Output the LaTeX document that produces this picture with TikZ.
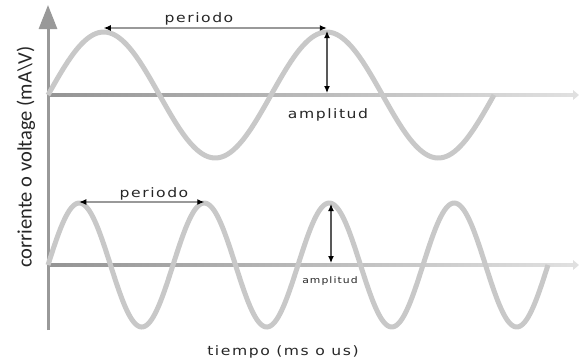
\documentclass[tikz,border=0pt]{standalone}
\usepackage{fontspec}
\usepackage{graphicx}
\setmainfont{DejaVu Sans}
\newfontfamily\labfont[LetterSpace=10]{DejaVu Sans}
\newfontfamily\ylabfont{Carlito}
\usetikzlibrary{arrows.meta}
\definecolor{wavegray}{HTML}{C8C8C8}
\definecolor{axisgray}{HTML}{999999}
\definecolor{txtgray}{HTML}{262626}
\newcommand{\widetxt}[1]{\scalebox{1.2}[1]{#1}}
\begin{document}
\begin{tikzpicture}[x=1pt,y=-1pt,
  yaxisline/.style={draw=axisgray, line width=3pt, -{Triangle[width=18pt,length=24pt]}},
  wave/.style={draw=wavegray, line width=5pt},
  dimline/.style={draw=black!40, line width=1.2pt, {Latex[length=7pt,width=6pt,black]}-{Latex[length=7pt,width=6pt,black]}},
  ampline/.style={draw=black!65, line width=1.2pt, {Latex[length=7pt,width=6pt,black]}-{Latex[length=7pt,width=6pt,black]}},
  lab/.style={font=\labfont\fontsize{13}{15}\selectfont, text=txtgray, anchor=base, inner sep=0pt},
  smalllab/.style={font=\labfont\fontsize{9}{11}\selectfont, text=txtgray, anchor=base, inner sep=0pt},
]
\useasboundingbox (0,0) rectangle (579,360);
% coordinates
\coordinate (ybot) at (48,330);
\coordinate (ytop) at (48,5);
\coordinate (t1) at (103.75,28);
\coordinate (t2) at (326.75,28);
\coordinate (ta1) at (327,31);
\coordinate (ta2) at (327,93);
\coordinate (b1) at (79.25,202);
\coordinate (b2) at (204.25,202);
\coordinate (ba1) at (331,204);
\coordinate (ba2) at (331,263);
% horizontal axes
\shade[left color=black!42, right color=black!12] (48,93.5) rectangle (573,96.5);
\fill[black!12] (573,90) -- (579,95) -- (573,100) -- cycle;
\shade[left color=black!42, right color=black!12] (48,263.5) rectangle (573,266.5);
\fill[black!12] (573,260) -- (579,265) -- (573,270) -- cycle;
% vertical axis
\draw[yaxisline] (ybot) -- (ytop);
% waves
\draw[wave] plot[domain=0:446, samples=160, smooth] ({48+\x},{95-63*sin(1.61435*\x)});
\draw[wave] plot[domain=0:500, samples=300, smooth] ({48+\x},{265-62*sin(2.88*\x)});
% dimension arrows
\draw[dimline] (t1) -- (t2);
\draw[ampline] (ta1) -- (ta2);
\draw[dimline] (b1) -- (b2);
\draw[ampline] (ba1) -- (ba2);
% labels
\node[lab] (lp1) at (199,22) {\widetxt{periodo}};
\node[lab] (la1) at (328,118) {\widetxt{amplitud}};
\node[lab] (lp2) at (154,197) {\widetxt{periodo}};
\node[smalllab] (la2) at (330,283) {\widetxt{amplitud}};
\node[lab] (lx) at (283,355) {\widetxt{tiempo (ms o us)}};
\node[font=\ylabfont\fontsize{20.5}{22}\selectfont, text=black!85, rotate=90, anchor=base, inner sep=0pt] (ly) at (31.5,157) {corriente o voltage (mA\textbackslash V)};
\end{tikzpicture}
\end{document}
